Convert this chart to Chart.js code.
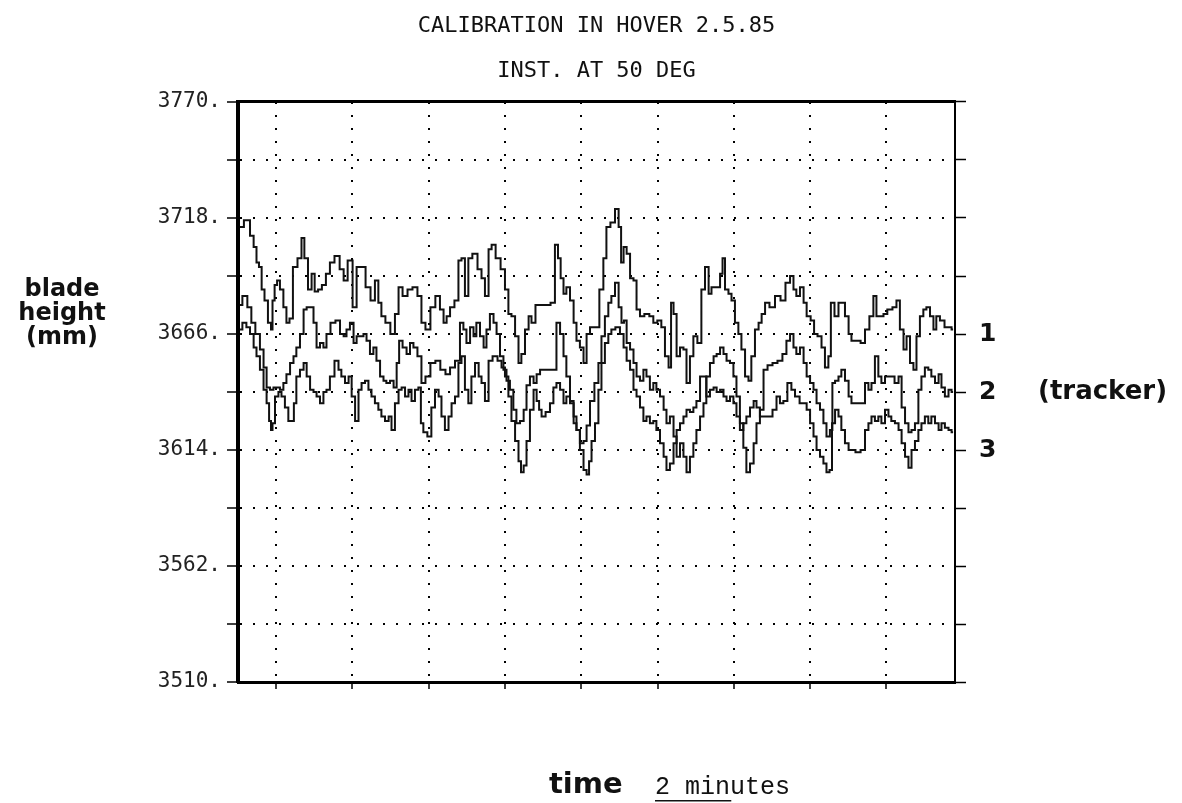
<!DOCTYPE html>
<html>
<head>
<meta charset="utf-8">
<script src="https://cdn.jsdelivr.net/npm/chart.js@4.4.0/dist/chart.umd.min.js"></script>
<style>
  body { margin: 0; background: #fff; }
  canvas { display: block; }
</style>
</head>
<body>
<canvas id="grafico" width="1182" height="803"></canvas>
<script>
// Títulos e rótulos
const titulo = ['CALIBRATION IN HOVER 2.5.85', 'INST. AT 50 DEG'];
const tituloY = ['blade', 'height', '(mm)'];
const nomesTracker = ['1', '2', '3'];
const niveisTracker = [3666, 3640, 3614];
const notaTracker = '(tracker)';
const textoTempo = 'time';
const textoEscala = '2 minutes';
const escalaMinutos = 2;

// Eixos (mm e minutos)
const alturaMin = 3510;
const alturaMax = 3770;
const passoGrade = 26;
const passoRotulo = 52;
const tempoMax = 18.8;
const gradeTempo = [1, 3, 5, 7, 9, 11, 13, 15, 17];

// Pá 1 (tempo em minutos, altura em mm)
const t1 = [0.05,0.26,0.37,0.45,0.52,0.58,0.66,0.73,0.84,0.89,
  0.92,1.00,1.05,1.15,1.23,1.31,1.39,1.49,1.63,1.70,
  1.78,1.89,1.97,2.05,2.15,2.25,2.36,2.46,2.60,2.73,
  2.81,2.94,3.07,3.15,3.28,3.41,3.54,3.64,3.72,3.80,
  3.93,4.06,4.17,4.25,4.38,4.51,4.64,4.77,4.85,4.98,
  5.11,5.24,5.35,5.43,5.51,5.61,5.74,5.82,5.90,6.00,
  6.08,6.21,6.35,6.42,6.53,6.61,6.69,6.82,6.95,7.05,
  7.13,7.21,7.32,7.39,7.47,7.58,7.66,7.73,7.87,8.00,
  8.13,8.26,8.36,8.42,8.50,8.57,8.65,8.76,8.84,8.91,
  9.02,9.10,9.18,9.28,9.41,9.54,9.62,9.70,9.83,9.94,
  10.02,10.07,10.15,10.23,10.33,10.41,10.49,10.59,10.72,10.85,
  10.93,11.06,11.14,11.25,11.33,11.38,11.46,11.54,11.64,11.72,
  11.80,11.90,11.98,12.11,12.19,12.30,12.38,12.45,12.59,12.69,
  12.72,12.82,12.90,12.98,13.08,13.16,13.24,13.35,13.42,13.50,
  13.61,13.69,13.77,13.87,14.00,14.16,14.29,14.42,14.53,14.60,
  14.68,14.79,14.87,14.95,15.08,15.13,15.26,15.34,15.44,15.52,
  15.57,15.71,15.78,15.86,15.97,16.05,16.12,16.26,16.39,16.49,
  16.62,16.70,16.78,16.89,16.96,17.09,17.23,17.30,17.41,17.49,
  17.57,17.67,17.75,17.83,17.93,18.01,18.09,18.20,18.27,18.35,
  18.46,18.59,18.67,18.75];
const h1 = [3714,3717,3710,3705,3698,3696,3686,3681,3671,3668,
  3681,3688,3690,3686,3678,3671,3673,3696,3700,3709,
  3700,3686,3693,3685,3686,3688,3693,3698,3701,3695,
  3690,3699,3678,3696,3696,3687,3681,3690,3680,3674,
  3671,3666,3675,3687,3683,3686,3687,3683,3671,3668,
  3678,3683,3677,3671,3674,3678,3681,3699,3700,3683,
  3700,3702,3695,3691,3683,3704,3706,3700,3695,3686,
  3675,3674,3665,3653,3657,3668,3674,3671,3679,3679,
  3679,3680,3706,3700,3691,3684,3687,3681,3671,3663,
  3660,3653,3666,3669,3669,3686,3700,3714,3716,3722,
  3714,3698,3705,3702,3691,3690,3677,3674,3675,3674,
  3671,3672,3669,3656,3651,3680,3675,3656,3660,3659,
  3644,3656,3665,3662,3686,3696,3684,3687,3687,3693,
  3700,3686,3684,3681,3671,3666,3659,3647,3645,3656,
  3668,3671,3675,3680,3678,3683,3681,3689,3692,3686,
  3683,3687,3680,3674,3672,3666,3665,3660,3651,3656,
  3680,3674,3680,3680,3674,3666,3663,3663,3662,3668,
  3674,3683,3674,3674,3675,3677,3678,3681,3668,3659,
  3665,3653,3650,3665,3674,3677,3678,3674,3668,3674,
  3672,3669,3669,3668];

// Pá 2
const t2 = [0.05,0.18,0.31,0.39,0.52,0.63,0.71,0.79,0.89,0.97,
  1.05,1.15,1.23,1.31,1.42,1.49,1.57,1.68,1.76,1.84,
  1.94,2.02,2.10,2.20,2.28,2.36,2.49,2.62,2.73,2.81,
  2.88,2.99,3.07,3.15,3.25,3.33,3.41,3.51,3.59,3.67,
  3.78,3.85,3.93,4.04,4.12,4.20,4.25,4.38,4.46,4.56,
  4.64,4.77,4.85,4.98,5.11,5.24,5.37,5.51,5.61,5.77,
  5.87,5.95,6.03,6.14,6.21,6.29,6.40,6.48,6.55,6.66,
  6.74,6.82,6.92,7.00,7.08,7.18,7.26,7.34,7.45,7.53,
  7.60,7.71,7.79,7.87,7.97,8.13,8.31,8.39,8.50,8.57,
  8.65,8.76,8.84,8.91,9.02,9.10,9.18,9.28,9.41,9.49,
  9.57,9.67,9.75,9.83,9.94,10.02,10.09,10.15,10.23,10.33,
  10.41,10.49,10.59,10.67,10.75,10.85,10.93,11.01,11.12,11.20,
  11.27,11.38,11.46,11.54,11.64,11.72,11.80,11.90,11.98,12.06,
  12.17,12.24,12.32,12.43,12.51,12.59,12.69,12.77,12.85,12.95,
  13.03,13.11,13.21,13.29,13.37,13.48,13.56,13.63,13.74,13.82,
  13.95,14.08,14.21,14.34,14.42,14.53,14.60,14.68,14.79,14.87,
  14.95,15.05,15.13,15.21,15.31,15.39,15.47,15.57,15.60,15.71,
  15.78,15.86,15.97,16.05,16.12,16.26,16.39,16.49,16.57,16.65,
  16.75,16.83,16.91,17.02,17.15,17.28,17.36,17.44,17.54,17.62,
  17.70,17.80,17.88,17.96,18.06,18.14,18.22,18.33,18.41,18.48,
  18.59,18.67,18.75];
const h2 = [3679,3683,3678,3671,3666,3659,3651,3642,3641,3642,
  3642,3641,3644,3648,3653,3656,3660,3666,3677,3678,
  3678,3671,3660,3662,3660,3666,3671,3672,3666,3665,
  3668,3671,3662,3665,3665,3666,3663,3657,3660,3654,
  3647,3645,3644,3645,3642,3653,3663,3660,3657,3662,
  3660,3656,3644,3647,3653,3654,3650,3648,3651,3654,
  3671,3668,3662,3669,3665,3671,3665,3660,3668,3675,
  3671,3666,3656,3650,3645,3641,3632,3626,3627,3632,
  3643,3647,3644,3648,3650,3650,3650,3671,3666,3656,
  3647,3636,3626,3623,3617,3618,3625,3636,3644,3653,
  3665,3674,3680,3683,3689,3678,3671,3672,3662,3659,
  3653,3647,3645,3650,3647,3641,3644,3641,3638,3632,
  3626,3629,3620,3611,3617,3611,3604,3611,3617,3623,
  3629,3635,3647,3653,3656,3657,3660,3657,3654,3653,
  3647,3638,3626,3615,3604,3608,3617,3626,3632,3650,
  3652,3653,3654,3657,3663,3666,3660,3657,3660,3653,
  3647,3644,3641,3635,3632,3626,3620,3623,3644,3645,
  3647,3650,3645,3638,3635,3635,3635,3644,3641,3644,
  3656,3647,3644,3647,3647,3644,3647,3633,3626,3622,
  3623,3626,3641,3647,3651,3650,3647,3644,3648,3642,
  3638,3641,3640];

// Pá 3
const t3 = [0.05,0.18,0.26,0.37,0.45,0.52,0.63,0.71,0.79,0.84,
  0.89,0.92,1.02,1.10,1.18,1.28,1.36,1.44,1.49,1.57,
  1.68,1.76,1.84,1.94,2.02,2.10,2.20,2.28,2.36,2.46,
  2.60,2.67,2.75,2.86,2.94,3.02,3.12,3.20,3.28,3.38,
  3.46,3.54,3.64,3.72,3.80,3.91,3.99,4.06,4.17,4.25,
  4.33,4.43,4.51,4.59,4.69,4.77,4.82,4.90,5.03,5.11,
  5.22,5.30,5.37,5.48,5.56,5.64,5.74,5.82,5.90,6.00,
  6.08,6.16,6.27,6.35,6.42,6.53,6.61,6.74,6.87,6.95,
  7.05,7.13,7.21,7.32,7.39,7.45,7.53,7.60,7.71,7.79,
  7.87,7.92,8.00,8.13,8.23,8.31,8.39,8.50,8.57,8.65,
  8.76,8.84,8.91,9.02,9.10,9.18,9.23,9.31,9.41,9.49,
  9.57,9.67,9.75,9.83,9.96,10.07,10.15,10.23,10.33,10.41,
  10.49,10.59,10.67,10.75,10.85,10.93,11.01,11.12,11.20,11.27,
  11.38,11.46,11.54,11.64,11.72,11.80,11.90,11.98,12.06,12.17,
  12.24,12.32,12.43,12.51,12.59,12.69,12.77,12.85,12.95,13.03,
  13.11,13.21,13.29,13.37,13.48,13.56,13.63,13.74,13.82,13.95,
  14.08,14.16,14.26,14.34,14.47,14.55,14.66,14.79,14.87,14.95,
  15.05,15.13,15.21,15.31,15.39,15.47,15.55,15.60,15.71,15.78,
  15.86,15.97,16.05,16.12,16.26,16.39,16.49,16.57,16.65,16.75,
  16.83,16.91,17.02,17.09,17.17,17.28,17.36,17.44,17.54,17.62,
  17.70,17.80,17.88,17.96,18.06,18.14,18.22,18.33,18.41,18.48,
  18.59,18.67,18.75];
const h3 = [3668,3671,3669,3666,3660,3656,3650,3641,3635,3627,
  3623,3626,3638,3640,3638,3633,3627,3627,3635,3647,
  3650,3653,3647,3641,3640,3638,3635,3640,3641,3647,
  3654,3650,3647,3644,3647,3638,3627,3641,3644,3645,
  3641,3638,3635,3632,3629,3627,3629,3623,3635,3641,
  3642,3638,3641,3636,3641,3642,3626,3622,3620,3633,
  3641,3638,3629,3623,3629,3635,3638,3653,3656,3641,
  3635,3647,3653,3647,3644,3636,3654,3656,3654,3651,
  3647,3638,3627,3618,3609,3604,3607,3618,3632,3641,
  3636,3632,3629,3631,3635,3642,3644,3641,3635,3638,
  3635,3629,3623,3614,3605,3603,3609,3618,3626,3641,
  3653,3662,3666,3668,3669,3666,3660,3654,3650,3641,
  3638,3633,3627,3629,3626,3627,3623,3617,3611,3605,
  3608,3617,3623,3626,3629,3632,3631,3633,3636,3647,
  3647,3638,3641,3642,3640,3641,3638,3636,3638,3635,
  3629,3623,3626,3629,3633,3636,3633,3629,3629,3629,
  3632,3638,3635,3636,3644,3641,3638,3635,3635,3632,
  3626,3620,3614,3611,3608,3604,3605,3626,3632,3629,
  3623,3617,3614,3614,3613,3614,3623,3626,3629,3627,
  3629,3626,3632,3629,3627,3626,3623,3617,3611,3606,
  3614,3618,3623,3626,3629,3626,3629,3626,3623,3626,
  3624,3623,3622];

const pontos = (ts, hs) => ts.map((t, i) => ({ x: t, y: hs[i] }));

// Textos fora dos eixos
const textosExtras = {
  id: 'textosExtras',
  afterDraw(chart) {
    const { ctx, scales } = chart;
    ctx.save();
    ctx.fillStyle = '#111';
    ctx.textBaseline = 'middle';

    ctx.textAlign = 'center';
    ctx.font = 'bold 24px "DejaVu Sans"';
    tituloY.forEach((t, i) => ctx.fillText(t, 62, 290 + i * 24));

    ctx.textAlign = 'left';
    ctx.font = 'bold 26px "DejaVu Sans"';
    ctx.fillText(notaTracker, 1038, scales.y2.getPixelForValue(niveisTracker[1]));

    ctx.font = 'bold 29px "DejaVu Sans"';
    ctx.fillText(textoTempo, 549, 785);

    ctx.font = '25px "Liberation Mono"';
    ctx.fillText(textoEscala, 655, 787);

    // barra de escala: 2 minutos no eixo do tempo
    const comp = scales.x.getPixelForValue(escalaMinutos) - scales.x.getPixelForValue(0);
    ctx.fillRect(655, 800, comp, 1.5);
    ctx.restore();
  }
};

const eixoAltura = {
  type: 'linear',
  min: alturaMin,
  max: alturaMax,
  border: { color: '#000', dash: [2, 11] },
  grid: { color: '#000', lineWidth: 2, tickLength: 11, tickColor: '#000', tickWidth: 1.5 },
  ticks: { stepSize: passoGrade, autoSkip: false }
};

const ctx = document.getElementById('grafico').getContext('2d');
const grafico = new Chart(ctx, {
  type: 'line',
  data: {
    datasets: [pontos(t1, h1), pontos(t2, h2), pontos(t3, h3)].map(d => ({
      data: d,
      borderColor: '#111',
      borderWidth: 2,
      pointRadius: 0,
      stepped: 'middle',
      fill: false
    }))
  },
  options: {
    responsive: false,
    animation: false,
    devicePixelRatio: 1,
    layout: { padding: 0 },
    plugins: {
      legend: { display: false },
      tooltip: { enabled: false },
      title: {
        display: true,
        fullSize: false,
        text: titulo,
        color: '#111',
        font: { family: 'DejaVu Sans Mono', size: 22, weight: 'normal', lineHeight: 2.05 },
        padding: { top: 4, bottom: 7.8 }
      }
    },
    scales: {
      x: {
        type: 'linear',
        min: 0,
        max: tempoMax,
        afterBuildTicks: ax => { ax.ticks = gradeTempo.map(v => ({ value: v })); },
        afterFit: ax => { ax.height = 121; },
        border: { color: '#000', width: 3, dash: [2, 11] },
        grid: { color: '#000', lineWidth: 2, tickLength: 7, tickColor: '#000', tickWidth: 1.5 },
        ticks: { display: false }
      },
      x2: {
        type: 'linear',
        position: 'top',
        min: 0,
        max: tempoMax,
        afterFit: ax => { ax.height = 0; },
        border: { color: '#000', width: 3 },
        grid: { display: false },
        ticks: { display: false }
      },
      y: {
        ...eixoAltura,
        position: 'left',
        afterFit: ax => { ax.width = 238; },
        border: { color: '#000', width: 4, dash: [2, 11] },
        ticks: {
          stepSize: passoGrade,
          autoSkip: false,
          padding: 6,
          color: '#222',
          font: { family: 'DejaVu Sans Mono', size: 21 },
          callback: v => ((v - alturaMin) % passoRotulo === 0 ? v + '.' : '')
        }
      },
      y2: {
        ...eixoAltura,
        position: 'right',
        afterFit: ax => { ax.width = 227; },
        border: { color: '#000', width: 2 },
        grid: { drawOnChartArea: false, tickLength: 11, tickColor: '#000', tickWidth: 1.5 },
        ticks: {
          stepSize: passoGrade,
          autoSkip: false,
          padding: 13,
          color: '#111',
          font: { family: 'DejaVu Sans', size: 25, weight: 'bold' },
          callback: v => {
            const i = niveisTracker.indexOf(v);
            return i >= 0 ? nomesTracker[i] : '';
          }
        }
      }
    }
  },
  plugins: [textosExtras]
});
</script>
</body>
</html>
